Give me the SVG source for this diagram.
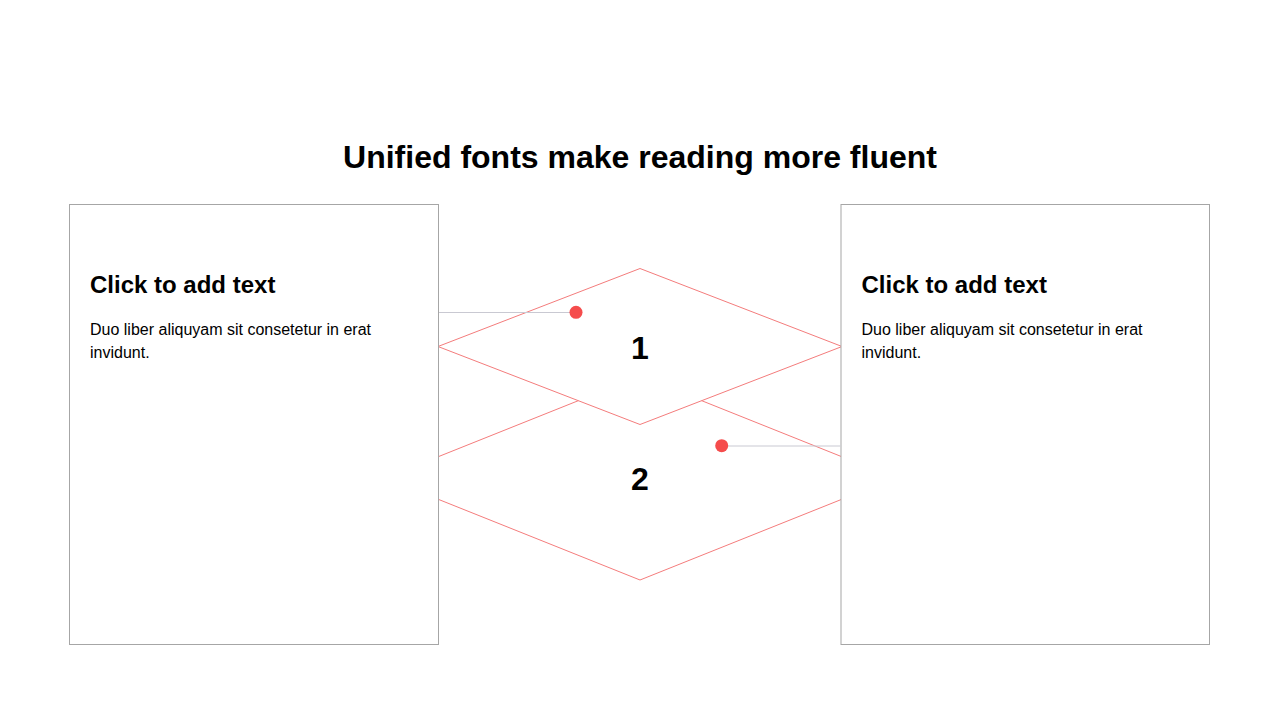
<svg xmlns="http://www.w3.org/2000/svg" width="1280" height="720" viewBox="0 0 1280 720">
<style>
.dia{fill:#ffffff;stroke:#f47c7c;stroke-width:1}
.box{fill:#ffffff;stroke:#a6a6a6;stroke-width:1}
.lead{stroke:#c9c9d2;stroke-width:1;fill:none}
.dot{fill:#f54c4c}
.title{font-family:"Liberation Sans",Arial,sans-serif;font-weight:bold;font-size:32px;fill:#000}
.num{font-family:"Liberation Sans",Arial,sans-serif;font-weight:bold;font-size:32px;fill:#000}
.head{font-family:"Liberation Sans",Arial,sans-serif;font-weight:bold;font-size:24px;fill:#000}
.body{font-family:"Liberation Sans",Arial,sans-serif;font-size:16px;fill:#000}
</style>
<rect width="1280" height="720" fill="#ffffff"/>
<text class="title" x="640" y="168" text-anchor="middle">Unified fonts make reading more fluent</text>
<g id="diamond2">
<polygon class="dia" points="640,376 895,478 640,580 385,478"/>
<text class="num" x="640" y="490" text-anchor="middle">2</text>
</g>
<g id="diamond1">
<polygon class="dia" points="640,268.5 842,346.5 640,424.5 438,346.5"/>
<text class="num" x="640" y="358.5" text-anchor="middle">1</text>
</g>
<g id="box-left">
<rect class="box" x="69.5" y="204.5" width="369" height="440"/>
<text class="head" x="90" y="293">Click to add text</text>
<text class="body" x="90" y="335">Duo liber aliquyam sit consetetur in erat</text>
<text class="body" x="90" y="357.5">invidunt.</text>
</g>
<g id="box-right">
<rect class="box" x="841" y="204.5" width="368.5" height="440"/>
<text class="head" x="861.5" y="293">Click to add text</text>
<text class="body" x="861.5" y="335">Duo liber aliquyam sit consetetur in erat</text>
<text class="body" x="861.5" y="357.5">invidunt.</text>
</g>
<g id="connectors">
<line class="lead" x1="439" y1="312.5" x2="576" y2="312.5"/>
<circle class="dot" cx="576" cy="312.3" r="6.5"/>
<line class="lead" x1="722" y1="446" x2="840.5" y2="446"/>
<circle class="dot" cx="721.7" cy="445.7" r="6.5"/>
</g>
</svg>
